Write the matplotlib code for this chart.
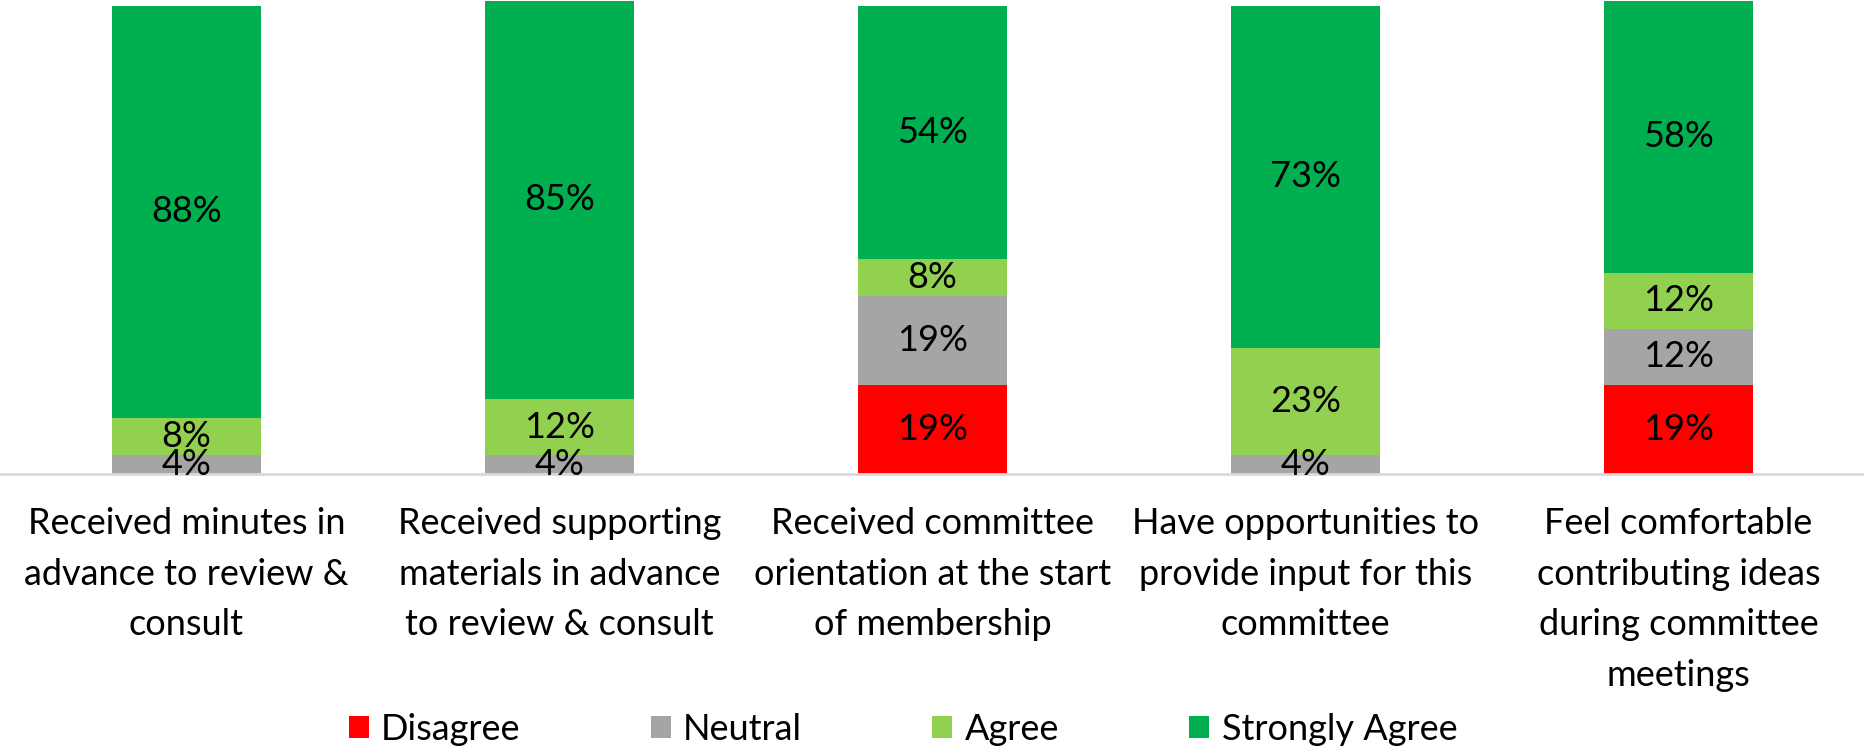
import matplotlib
matplotlib.use("Agg")
import matplotlib.pyplot as plt
import numpy as np

plt.rcParams['font.family'] = ['Lato', 'DejaVu Sans']

categories = [
    "Received minutes in\nadvance to review &\nconsult",
    "Received supporting\nmaterials in advance\nto review & consult",
    "Received committee\norientation at the start\nof membership",
    "Have opportunities to\nprovide input for this\ncommittee",
    "Feel comfortable\ncontributing ideas\nduring committee\nmeetings",
]
series_names = ["Disagree", "Neutral", "Agree", "Strongly Agree"]
disagree = [0, 0, 19, 0, 19]
neutral = [4, 4, 19, 4, 12]
agree = [8, 12, 8, 23, 12]
strongly_agree = [88, 85, 54, 73, 58]
colors = ["#FF0000", "#A5A5A5", "#92D050", "#00B050"]

fs = 26

fig = plt.figure(figsize=(18.65, 7.49), dpi=100)
ax = fig.add_axes([0, 1 - 474 / 749, 1, 474 / 749])

x = np.arange(len(categories))
bottom = np.zeros(len(categories))
handles = []
for name, vals, col in zip(series_names, [disagree, neutral, agree, strongly_agree], colors):
    vals = np.array(vals, dtype=float)
    bars = ax.bar(x, vals, 0.4, bottom=bottom, color=col, label=name, zorder=2)
    handles.append(bars)
    for xi, b, v in zip(x, bottom, vals):
        if v > 0:
            ax.text(xi, b + v / 2, f"{int(v)}%", ha="center", va="center",
                    fontsize=fs, color="black", zorder=3)
    bottom += vals

ax.set_xlim(-0.5, 4.5)
ax.set_ylim(0, 101.2)
ax.set_yticks([])
for s in ["top", "left", "right"]:
    ax.spines[s].set_visible(False)
ax.spines["bottom"].set_color("#D9D9D9")
ax.spines["bottom"].set_linewidth(2)
ax.set_xticks(x)
ax.set_xticklabels(categories, fontsize=fs, linespacing=1.65)
ax.tick_params(axis="x", length=0, pad=24)

fig.legend(handles=handles, labels=series_names, loc="center",
           bbox_to_anchor=(903 / 1865, 1 - 729 / 749), ncol=4, frameon=False,
           fontsize=fs, handlelength=0.55, handleheight=0.55,
           handletextpad=0.35, columnspacing=3.6)

fig.savefig("out.png", dpi=100)
